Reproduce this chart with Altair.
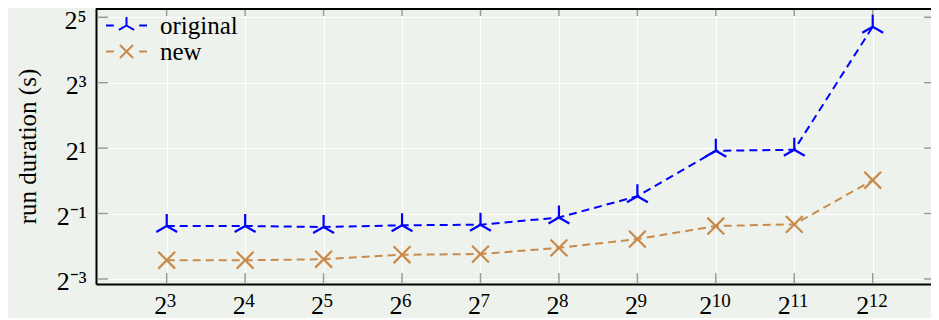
import altair as alt
import pandas as pd

# ---- data ----
sizes = [8, 16, 32, 64, 128, 256, 512, 1024, 2048, 4096]
original = [0.384, 0.384, 0.376, 0.390, 0.395, 0.460, 0.722, 1.892, 1.932, 26.2]
new = [0.186, 0.186, 0.190, 0.209, 0.212, 0.242, 0.291, 0.384, 0.398, 1.014]
series_names = ["original", "new"]

x_tick_values = [8, 16, 32, 64, 128, 256, 512, 1024, 2048, 4096]
x_tick_exponents = ["3", "4", "5", "6", "7", "8", "9", "10", "11", "12"]
y_tick_values = [0.125, 0.5, 2, 8, 32]
y_tick_labels = ["2⁻³", "2⁻¹", "2¹", "2³", "2⁵"]

# ---- styling ----
BG = "#edf3ec"
COLORS = ["#0000ff", "#c98a4b"]
FONT = "Liberation Serif"
FS = 26
W, H = 835, 276
x_domain = [2 ** 2.0986, 2 ** 12.743]
y_domain = [2 ** -3.153, 2 ** 5.284]

xt = pd.DataFrame({"size": x_tick_values, "e": x_tick_exponents})
yt = pd.DataFrame({"duration": y_tick_values})

y_label_expr = "[" + ",".join(f"'{l}'" for l in y_tick_labels) + "][(round(log(datum.value)/LN2)+3)/2]"

xscale = alt.Scale(type="log", base=2, domain=x_domain, nice=False, zero=False)
yscale = alt.Scale(type="log", base=2, domain=y_domain, nice=False, zero=False)

# marker paths (unit coordinates)
marker_paths = ["M0,0L0,-1M0,0L-0.87,0.5M0,0L0.87,0.5",
                "M-0.7,-0.7L0.7,0.7M-0.7,0.7L0.7,-0.7"]
legend_paths = ["M-1,0H-0.62M0.62,0H1M0,0V-0.42M0,0L-0.37,0.21M0,0L0.37,0.21",
                "M-1,0H-0.62M0.62,0H1M-0.32,-0.32L0.32,0.32M-0.32,0.32L0.32,-0.32"]
legend_y = [-4, 22]

x_axis = alt.Axis(values=x_tick_values, labelExpr="'2'", grid=True, ticks=False,
                  labelAlign="right",
                  labelOffset={"condition": {"test": "datum.value >= 1024", "value": -4}, "value": 0},
                  labelPadding=8, labelFlush=False, labelOverlap=False)
y_axis = alt.Axis(values=y_tick_values, labelExpr=y_label_expr, grid=True, ticks=False,
                  labelBaseline="alphabetic", labelOffset=11,
                  labelPadding=10, labelFlush=False, labelOverlap=False, titlePadding=16)

X = alt.X("size:Q", scale=xscale)
Y = alt.Y("duration:Q", scale=yscale)

line_layers = []
point_layers = []
legend_layers = []
for i, (name, vals) in enumerate(zip(series_names, [original, new])):
    d = pd.DataFrame({"size": sizes, "duration": vals, "series": [name] * len(sizes)})
    base = alt.Chart(d)
    line_layers.append(
        base.mark_line(strokeDash=[8, 5], strokeWidth=2, color=COLORS[i]).encode(
            x=alt.X("size:Q", scale=xscale, title=None, axis=x_axis),
            y=alt.Y("duration:Q", scale=yscale, title="run duration (s)", axis=y_axis),
        )
    )
    point_layers.append(
        base.mark_point(filled=False, strokeWidth=2.2, opacity=1, size=576,
                        shape=marker_paths[i], color=COLORS[i]).encode(x=X, y=Y)
    )
    legend_layers.append(
        base.mark_point(filled=False, opacity=0).encode(
            x=X, y=Y,
            color=alt.Color("series:N",
                            scale=alt.Scale(domain=[name], range=[COLORS[i]]),
                            legend=alt.Legend(title=None, orient="none", legendX=9,
                                              legendY=legend_y[i], symbolType=legend_paths[i])),
        )
    )

TICK = "#9a9a9a"
bottom_ticks = alt.Chart(xt).mark_rule(color=TICK, strokeWidth=1.5).encode(
    x=X, y=alt.value(H - 11), y2=alt.value(H - 1)
)
top_ticks = alt.Chart(xt).mark_rule(color=TICK, strokeWidth=1.5).encode(
    x=X, y=alt.value(1), y2=alt.value(8)
)
left_ticks = alt.Chart(yt).mark_rule(color=TICK, strokeWidth=1.5).encode(
    y=Y, x=alt.value(1), x2=alt.value(12)
)
right_ticks = alt.Chart(yt).mark_rule(color=TICK, strokeWidth=1.5).encode(
    y=Y, x=alt.value(W - 7), x2=alt.value(W)
)
top_frame = alt.Chart(xt).mark_rule(color="black", strokeWidth=2).encode(
    x=alt.value(0), x2=alt.value(W), y=alt.value(1)
)
exp_style = dict(align="left", baseline="alphabetic", font=FONT, fontSize=19, color="black")
exp_small = alt.Chart(xt).transform_filter("datum.size < 1024").mark_text(dx=0, **exp_style).encode(
    x=X, y=alt.value(H + 23), text="e:N"
)
exp_big = alt.Chart(xt).transform_filter("datum.size >= 1024").mark_text(dx=-4, **exp_style).encode(
    x=X, y=alt.value(H + 23), text="e:N"
)

chart = alt.layer(
    *line_layers, bottom_ticks, top_ticks, left_ticks, right_ticks,
    *point_layers, *legend_layers, top_frame, exp_small, exp_big
).resolve_scale(color="independent").properties(
    width=W, height=H,
    autosize=alt.AutoSizeParams(type="none"),
    padding={"left": 88, "top": 0, "right": 0, "bottom": 34},
    background=BG,
).configure_view(
    stroke=None, fill=BG
).configure_axis(
    gridColor="white", gridWidth=1, gridOpacity=1,
    domainColor="black", domainWidth=2,
    labelFont=FONT, labelFontSize=FS, labelColor="black",
    titleFont=FONT, titleFontSize=25, titleFontWeight="normal", titleColor="black",
).configure_legend(
    padding=0, symbolSize=1681, symbolStrokeWidth=2, symbolOpacity=1,
    symbolDash=[], symbolFillColor="transparent",
    labelFont=FONT, labelFontSize=25, labelColor="black", labelOffset=12,
    symbolOffset=0,
)

chart.save("out.html", embed_options={"renderer": "svg", "actions": False})
